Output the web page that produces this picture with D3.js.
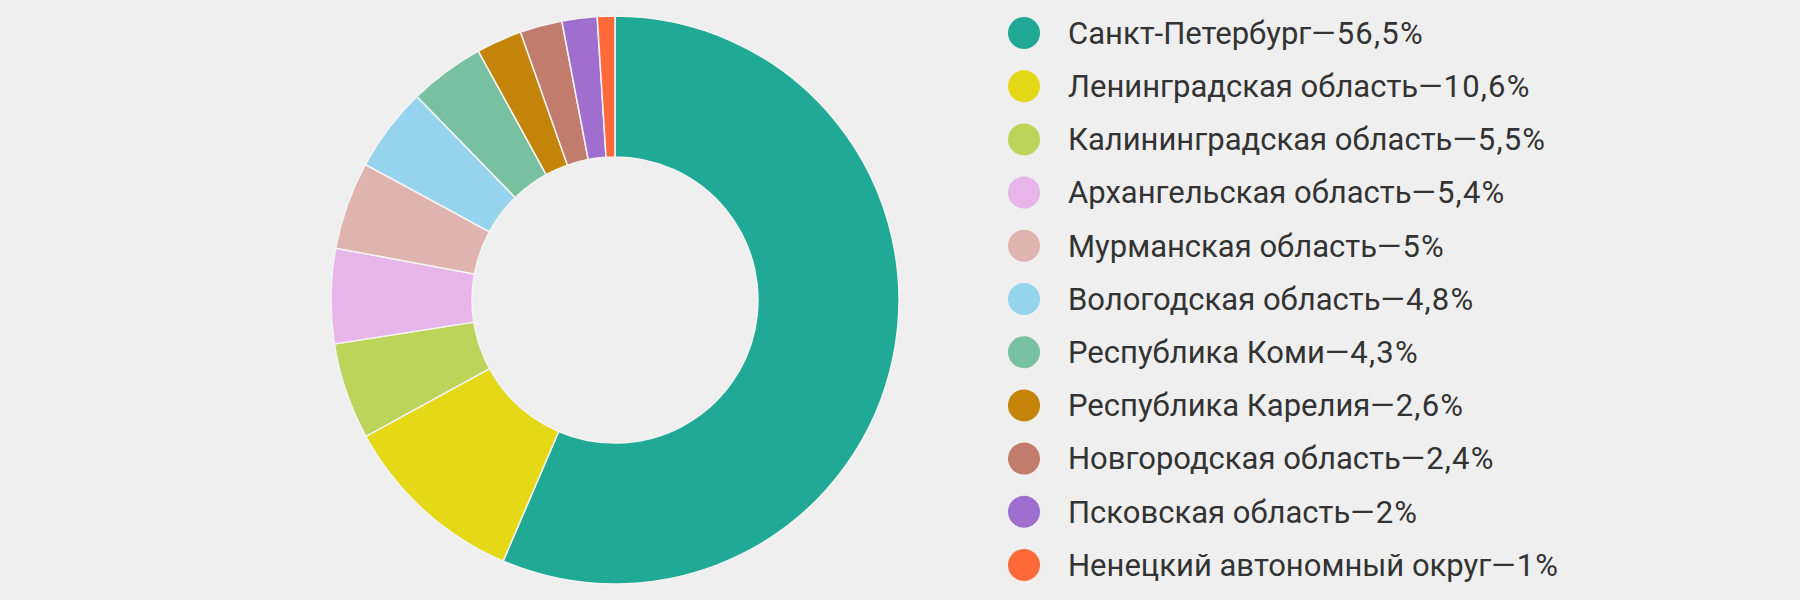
<!DOCTYPE html>
<html>
<head>
<meta charset="utf-8">
<script src="https://cdn.jsdelivr.net/npm/d3@7"></script>
<style>
    html, body { margin: 0; padding: 0; background: #efefef; }
    svg { display: block; }
</style>
</head>
<body>
<svg id="chart"></svg>
<script>
(function () {
    'use strict';

    var regions = ['Санкт-Петербург', 'Ленинградская область', 'Калининградская область',
        'Архангельская область', 'Мурманская область', 'Вологодская область',
        'Республика Коми', 'Республика Карелия', 'Новгородская область',
        'Псковская область', 'Ненецкий автономный округ'];
    var shares = [56.5, 10.6, 5.5, 5.4, 5, 4.8, 4.3, 2.6, 2.4, 2, 1];
    var shareLabels = ['56,5%', '10,6%', '5,5%', '5,4%', '5%', '4,8%', '4,3%', '2,6%', '2,4%', '2%', '1%'];
    var colors = ['#20a995', '#e5d817', '#bdd45a', '#e7b5ea', '#dfb3ae', '#96d3ec',
        '#77c1a0', '#c38409', '#c27c6d', '#9f6ecf', '#ff6a38'];

    var width = 1800;
    var height = 600;
    var outerRadius = 284;
    var innerRadius = 143;

    var data = regions.map(function (name, i) {
        return { key: name, value: shares[i], label: shareLabels[i] };
    });

    var color = d3.scaleOrdinal().domain(regions).range(colors);

    var svg = d3.select('#chart')
        .attr('width', width)
        .attr('height', height);

    var pie = d3.pie().sort(null).value(function (d) {
        return d.value;
    });

    var arc = d3.arc()
        .outerRadius(outerRadius)
        .innerRadius(innerRadius);

    var donut = svg.append('g')
        .attr('transform', 'translate(615,300)');

    donut.selectAll('.arc')
        .data(pie(data))
        .enter().append('path')
        .attr('class', 'arc')
        .attr('d', arc)
        .style('fill', function (d) {
            return color(d.data.key);
        })
        .style('stroke', '#f4f4f4')
        .style('stroke-width', 1.5);

    // legend
    var y = d3.scalePoint()
        .domain(regions)
        .range([33, 565]);

    var legend = svg.append('g')
        .selectAll('.item')
        .data(data)
        .enter().append('g')
        .attr('class', 'item')
        .attr('transform', function (d) {
            return 'translate(1024,' + y(d.key) + ')';
        });

    legend.append('circle')
        .attr('r', 16)
        .style('fill', function (d) {
            return color(d.key);
        });

    var text = legend.append('text')
        .attr('x', 44)
        .attr('dy', '.35em')
        .attr('fill', '#333')
        .style('font-family', 'Roboto, sans-serif')
        .style('font-size', '31px');

    text.append('tspan')
        .text(function (d) {
            return d.key;
        });

    text.append('tspan')
        .style('letter-spacing', '1.2px')
        .text(function (d) {
            return '—' + d.label;
        });
})();
</script>
</body>
</html>
